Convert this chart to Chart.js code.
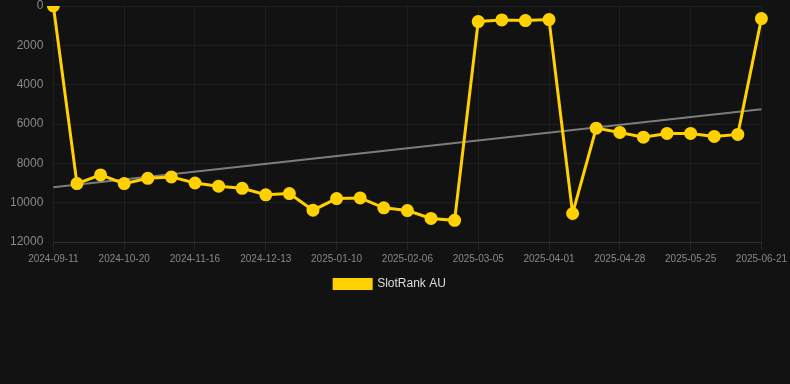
<!DOCTYPE html>
<html>
<head>
<meta charset="utf-8">
<script src="https://cdn.jsdelivr.net/npm/chart.js@4"></script>
<style>
  html, body { margin: 0; padding: 0; background: #121212; }
  #wrap { width: 790px; height: 300px; position: relative; }
</style>
</head>
<body>
<div id="wrap"><canvas id="c"></canvas></div>
<script>
const dates = [
  "2024-09-11","2024-09-24","2024-10-07","2024-10-20","2024-10-29","2024-11-07",
  "2024-11-16","2024-11-25","2024-12-04","2024-12-13","2024-12-22","2024-12-31",
  "2025-01-10","2025-01-19","2025-01-28","2025-02-06","2025-02-15","2025-02-24",
  "2025-03-05","2025-03-14","2025-03-23","2025-04-01","2025-04-10","2025-04-19",
  "2025-04-28","2025-05-07","2025-05-16","2025-05-25","2025-06-03","2025-06-12",
  "2025-06-21"
];
const rankAU = [
  0, 9030, 8590, 9030, 8760, 8690, 9000, 9160, 9270, 9600, 9540, 10380,
  9790, 9760, 10260, 10400, 10800, 10900, 790, 710, 740, 690, 10550,
  6210, 6430, 6670, 6480, 6480, 6630, 6530, 640
];
const trendStartEnd = [9220, 5250];
const yTicks = [0, 2000, 4000, 6000, 8000, 10000, 12000];

const trendData = dates.map((d, i) => i === 0 ? trendStartEnd[0] : (i === dates.length - 1 ? trendStartEnd[1] : null));

new Chart(document.getElementById('c'), {
  type: 'line',
  data: {
    labels: dates,
    datasets: [
      {
        label: 'SlotRank AU',
        data: rankAU,
        borderColor: '#FFD100',
        backgroundColor: '#FFD100',
        borderWidth: 3,
        pointRadius: 5,
        pointHoverRadius: 5,
        pointBackgroundColor: '#FFD100',
        pointBorderColor: '#FFD100',
        tension: 0,
        order: 1
      },
      {
        label: 'trend',
        data: trendData,
        spanGaps: true,
        borderColor: 'rgba(160,160,160,0.75)',
        borderWidth: 2,
        pointRadius: 0,
        pointHoverRadius: 0,
        fill: false,
        order: 2
      }
    ]
  },
  options: {
    responsive: true,
    maintainAspectRatio: false,
    animation: false,
    layout: { padding: { top: 0, left: 0, bottom: 0, right: 10 }, autoPadding: false },
    plugins: {
      tooltip: { enabled: false },
      legend: {
        position: 'bottom',
        labels: {
          filter: (item) => item.text !== 'trend',
          color: '#dddddd',
          font: { family: 'Liberation Sans, Arial, sans-serif', size: 12 },
          boxWidth: 37,
          boxHeight: 9
        }
      }
    },
    scales: {
      x: {
        grid: { color: 'rgba(255,255,255,0.05)', tickColor: 'rgba(255,255,255,0.08)', tickLength: 8 },
        border: { color: 'rgba(255,255,255,0.08)' },
        ticks: {
          color: '#888888',
          font: { family: 'Liberation Sans, Arial, sans-serif', size: 10 },
          maxRotation: 0,
          autoSkip: true,
          callback: function(v, i) { return i % 3 === 0 ? this.getLabelForValue(v) : null; }
        }
      },
      y: {
        reverse: true,
        min: 0,
        max: 12000,
        afterBuildTicks: (axis) => { axis.ticks = yTicks.map(v => ({ value: v })); },
        afterFit: (scale) => { scale.paddingTop = 6; },
        grid: { color: 'rgba(255,255,255,0.05)', drawTicks: false },
        border: { display: false },
        ticks: {
          color: '#888888',
          padding: 10,
          font: { family: 'Liberation Sans, Arial, sans-serif', size: 12 },
          callback: (v) => String(v)
        }
      }
    }
  }
});
</script>
</body>
</html>
